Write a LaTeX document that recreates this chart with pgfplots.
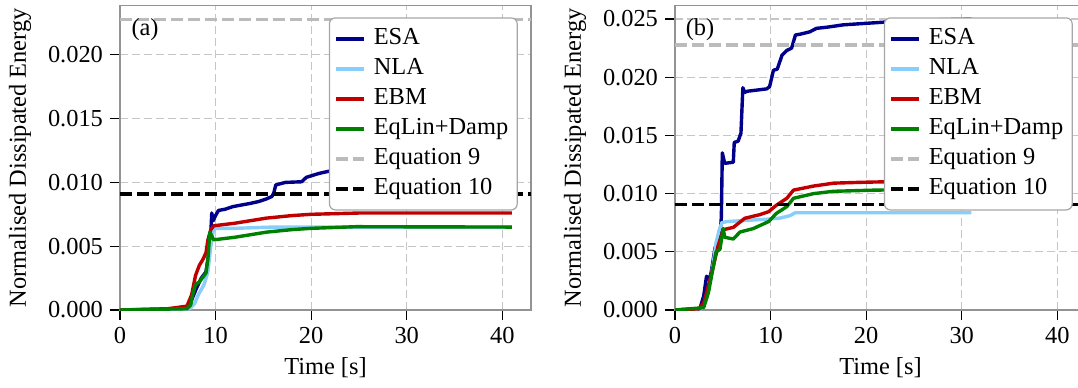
\documentclass[border=0pt]{standalone}
\usepackage{fontspec}
\setmainfont{Liberation Serif}
\usepackage{pgfplots}
\pgfplotsset{compat=1.18}
\definecolor{esa}{RGB}{0,0,139}
\definecolor{nla}{RGB}{135,206,250}
\definecolor{ebm}{RGB}{192,0,0}
\definecolor{eql}{RGB}{0,128,0}
\definecolor{eqnine}{RGB}{187,187,187}
\newcommand{\myfont}{\fontsize{12.2}{14}\selectfont}
\pgfplotsset{
 mystyle/.style={
  scale only axis, width=205.5pt, height=152.35pt,
  xmin=0, xmax=43, ymin=0,
  xtick={0,10,20,30,40},
  tick pos=left, tick align=outside, major tick length=5pt,
  every tick/.style={black, line width=0.6pt},
  axis line style={gray!85, line width=0.8pt},
  grid=major, grid style={dash pattern=on 4pt off 2pt, gray!45, line width=0.6pt},
  ticklabel style={font=\myfont},
  /pgf/number format/assume math mode=true,
  y tick label style={/pgf/number format/.cd, fixed, fixed zerofill, precision=3},
  scaled y ticks=false,
  xlabel={Time [s]}, ylabel={Normalised Dissipated Energy},
  every axis x label/.style={at={(axis description cs:0.5,-0.188)}, anchor=center, font=\myfont},
  every axis y label/.style={at={(axis description cs:-0.243,0.5)}, anchor=center, rotate=90, font=\myfont},
  legend style={at={(1,1)}, xshift=-6.6pt, yshift=-6pt, anchor=north east,
    rounded corners=3pt, draw=gray!70, line width=0.6pt, fill=white,
    font=\myfont, inner xsep=2.5pt, inner ysep=3pt,
    nodes={text height=8.5pt, text depth=2.5pt, inner ysep=2pt, inner xsep=2pt}},
  legend cell align=left,
  legend image code/.code={\draw[#1] (0pt,0pt) -- (14pt,0pt); \path (16pt,0pt);},
  every axis plot/.append style={line width=1.7pt, line join=round},
 }
}
\begin{document}
\begin{tikzpicture}
\path[use as bounding box, clip] (-60pt,-38.5pt) rectangle (479pt,155pt);
% ---------------- (a)
\begin{axis}[mystyle, at={(0,0)}, anchor=south west, ymax=0.02388,
  ytick={0,0.005,0.010,0.015,0.020}]
\addplot[esa] coordinates {(0,0) (5,0.00005) (7,0.0002) (7.5,0.0008) (8.0,0.0017) (8.5,0.0025) (9.0,0.0030) (9.3,0.0045) (9.5,0.0060) (9.6,0.0076) (9.75,0.0070) (10.0,0.0074) (10.3,0.0078) (11.0,0.0079) (11.8,0.0081) (12.5,0.0082) (13.6,0.00835) (14.5,0.0085) (15.3,0.0087) (15.9,0.0089) (16.1,0.0092) (16.3,0.0098) (17.3,0.0100) (19.0,0.01005) (19.5,0.0104) (20.8,0.0107) (22,0.0109) (25,0.0112) (30,0.0114) (41,0.0115)};
\addlegendentry{ESA}
\addplot[nla] coordinates {(0,0) (7.3,0.0001) (7.8,0.0005) (8.2,0.0012) (8.8,0.0020) (9.2,0.0030) (9.5,0.0050) (9.8,0.0064) (12,0.0064) (16,0.0065) (20,0.0065) (41,0.0065)};
\addlegendentry{NLA}
\addplot[ebm] coordinates {(0,0) (5,0.0001) (7,0.0003) (7.5,0.0012) (7.9,0.0027) (8.3,0.0035) (8.7,0.0040) (9.0,0.0045) (9.2,0.0055) (9.5,0.0063) (9.8,0.0066) (12,0.0068) (15.3,0.0072) (18,0.0074) (20,0.0075) (25,0.0076) (41,0.0076)};
\addlegendentry{EBM}
\addplot[eql] coordinates {(0,0) (7.0,0.0001) (7.4,0.0004) (7.6,0.0012) (7.9,0.0020) (8.3,0.0022) (8.7,0.0026) (9.0,0.0029) (9.2,0.0040) (9.4,0.0061) (9.6,0.0058) (9.8,0.0055) (12,0.0057) (15.3,0.0061) (18,0.0063) (20,0.0064) (24.7,0.00653) (41,0.0065)};
\addlegendentry{EqLin+Damp}
\addplot[eqnine, dash pattern=on 6pt off 2.5pt] coordinates {(0,0.02278) (43,0.02278)};
\addlegendentry{Equation 9}
\addplot[black, dash pattern=on 6pt off 2.5pt] coordinates {(0,0.00909) (43,0.00909)};
\addlegendentry{Equation 10}
\node[font=\myfont] at (axis description cs:0.061,0.919) {(a)};
\end{axis}
% ---------------- (b)
\begin{axis}[mystyle, at={(277.5pt,0)}, anchor=south west, ymax=0.02618,
  ytick={0,0.005,0.010,0.015,0.020,0.025}]
\addplot[esa] coordinates {(0,0) (2.6,0.0001) (3.0,0.0012) (3.3,0.0029) (3.6,0.0026) (3.8,0.0033) (4.2,0.0054) (4.5,0.0055) (4.7,0.0062) (4.85,0.0080) (4.95,0.0135) (5.2,0.0126) (6.1,0.0127) (6.2,0.0144) (6.6,0.0145) (6.9,0.0152) (7.1,0.0191) (7.3,0.0187) (7.6,0.0188) (9.6,0.0190) (9.9,0.0192) (10.3,0.0206) (10.7,0.0207) (11.2,0.0219) (11.7,0.0223) (12.2,0.0225) (12.6,0.02363) (13.1,0.0237) (14.1,0.0239) (14.8,0.0242) (15.9,0.0243) (17.6,0.0245) (19.4,0.0246) (20.9,0.02468) (25,0.0249) (31,0.0250)};
\addlegendentry{ESA}
\addplot[nla] coordinates {(0,0) (2.8,0.0001) (3.3,0.0012) (3.7,0.0025) (4.0,0.0040) (4.3,0.0058) (4.6,0.0068) (4.9,0.0075) (5.4,0.0076) (7.5,0.0077) (9.6,0.0078) (11.0,0.0079) (12.0,0.0081) (12.6,0.00836) (31,0.00836)};
\addlegendentry{NLA}
\addplot[ebm] coordinates {(0,0) (2.5,0.0001) (3.0,0.0006) (3.3,0.0015) (4.0,0.0037) (4.5,0.0055) (5.05,0.0069) (6.1,0.0071) (7.3,0.00788) (8.9,0.0082) (9.8,0.00845) (10.6,0.0090) (11.7,0.0096) (12.4,0.0103) (14.5,0.01065) (16.6,0.0109) (19.4,0.01097) (21,0.0110) (31,0.0111)};
\addlegendentry{EBM}
\addplot[eql] coordinates {(0,0) (3.0,0.0002) (3.5,0.0015) (4.0,0.0037) (4.3,0.0050) (4.7,0.0052) (5.05,0.0070) (5.2,0.00625) (6.1,0.0061) (6.8,0.0067) (8.2,0.0070) (9.8,0.0076) (10.6,0.0083) (11.7,0.00888) (12.4,0.0096) (14.5,0.0100) (16.6,0.0102) (20.9,0.0103) (31,0.0104)};
\addlegendentry{EqLin+Damp}
\addplot[eqnine, dash pattern=on 6pt off 2.5pt] coordinates {(0,0.02278) (43,0.02278)};
\addlegendentry{Equation 9}
\addplot[black, dash pattern=on 6pt off 2.5pt] coordinates {(0,0.00909) (43,0.00909)};
\addlegendentry{Equation 10}
\node[font=\myfont] at (axis description cs:0.061,0.919) {(b)};
\end{axis}
\end{tikzpicture}
\end{document}
